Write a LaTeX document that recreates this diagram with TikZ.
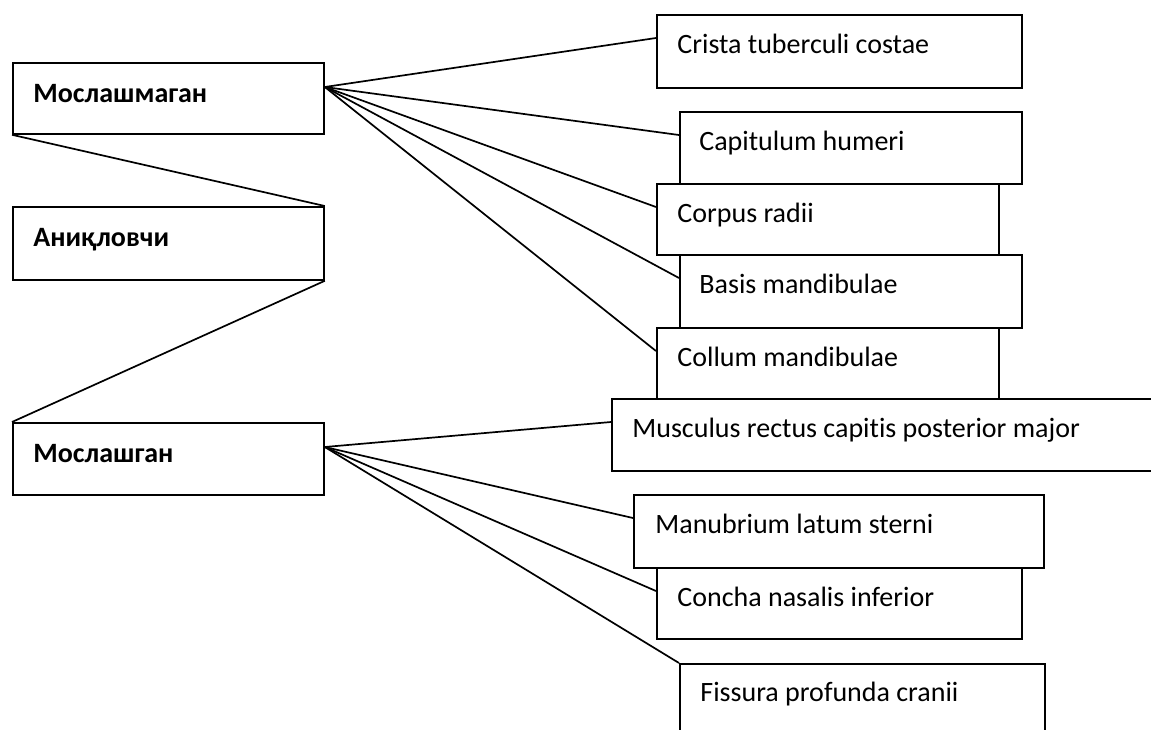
\documentclass[tikz,border=0pt]{standalone}
\usepackage{fontspec}
\setmainfont{Carlito}[Ligatures={NoCommon}]
\usetikzlibrary{calc}
\tikzset{
  box/.style={draw=black, line width=0.9pt, rectangle, inner sep=0pt, anchor=north west},
  txt/.style={anchor=base west, inner sep=0pt, font=\fontsize{14}{17}\selectfont},
  btxt/.style={anchor=base west, inner sep=0pt, font=\fontsize{14}{17}\selectfont\bfseries},
  conn/.style={draw=black, line width=0.85pt}}
\begin{document}
\begin{tikzpicture}[x=0.5pt,y=-0.5pt]
\useasboundingbox (0,0) rectangle (1151,729);
\clip (0,0) rectangle (1151,729);
% left boxes
\node[box, minimum width=155.5pt, minimum height=35.5pt] (mm) at (12,62) {};
\node[box, minimum width=155.5pt, minimum height=36.5pt] (an) at (12,206) {};
\node[box, minimum width=155.5pt, minimum height=36pt] (mg) at (12,422) {};
\node[btxt] (mmt) at ($(mm.north west)+(21,40)$) {Мослашмаган};
\node[btxt] (ant) at ($(an.north west)+(21,40)$) {Аниқловчи};
\node[btxt] (mgt) at ($(mg.north west)+(21,40)$) {Мослашган};
% right boxes
\node[box, minimum width=182.5pt, minimum height=36.5pt] (b1) at (656,14) {};
\node[box, minimum width=171pt, minimum height=36pt] (b2) at (679,111) {};
\node[box, minimum width=171pt, minimum height=35.5pt] (b3) at (656,183) {};
\node[box, minimum width=171pt, minimum height=36.5pt] (b4) at (679,254) {};
\node[box, minimum width=171pt, minimum height=35.5pt] (b5) at (656,327) {};
\node[box, minimum width=290pt, minimum height=36pt] (b6) at (611,398) {};
\node[box, minimum width=205pt, minimum height=36.5pt] (b7) at (633,494) {};
\node[box, minimum width=182.5pt, minimum height=35.5pt] (b8) at (656,567) {};
\node[box, minimum width=182.5pt, minimum height=45pt] (b9) at (679,663) {};
\node[txt] (t1) at ($(b1.north west)+(21,39)$) {Crista tuberculi costae};
\node[txt] (t2) at ($(b2.north west)+(20,39)$) {Capitulum humeri};
\node[txt] (t3) at ($(b3.north west)+(21,39)$) {Corpus radii};
\node[txt] (t4) at ($(b4.north west)+(20,39)$) {Basis mandibulae};
\node[txt] (t5) at ($(b5.north west)+(21,39)$) {Collum mandibulae};
\node[txt] (t6) at ($(b6.north west)+(21,39)$) {Musculus rectus capitis posterior major};
\node[txt] (t7) at ($(b7.north west)+(22,39)$) {Manubrium latum sterni};
\node[txt] (t8) at ($(b8.north west)+(21,39)$) {Concha nasalis inferior};
\node[txt] (t9) at ($(b9.north west)+(21,38)$) {Fissura profunda cranii};
% source points
\coordinate (s1) at ($(mm.north east)+(0,25)$);
\coordinate (s2) at ($(mg.north east)+(0,25)$);
% left chain
\draw[conn] (mm.south west) -- (an.north east);
\draw[conn] (an.south east) -- (mg.north west);
% fans
\draw[conn] (s1) -- ($(b1.north west)+(0,24)$);
\draw[conn] (s1) -- ($(b2.north west)+(0,24)$);
\draw[conn] (s1) -- ($(b3.north west)+(0,24)$);
\draw[conn] (s1) -- ($(b4.north west)+(0,24)$);
\draw[conn] (s1) -- ($(b5.north west)+(0,24)$);
\draw[conn] (s2) -- ($(b6.north west)+(0,24)$);
\draw[conn] (s2) -- ($(b7.north west)+(0,24)$);
\draw[conn] (s2) -- ($(b8.north west)+(0,24)$);
\draw[conn] (s2) -- (b9.north west);
\end{tikzpicture}
\end{document}
